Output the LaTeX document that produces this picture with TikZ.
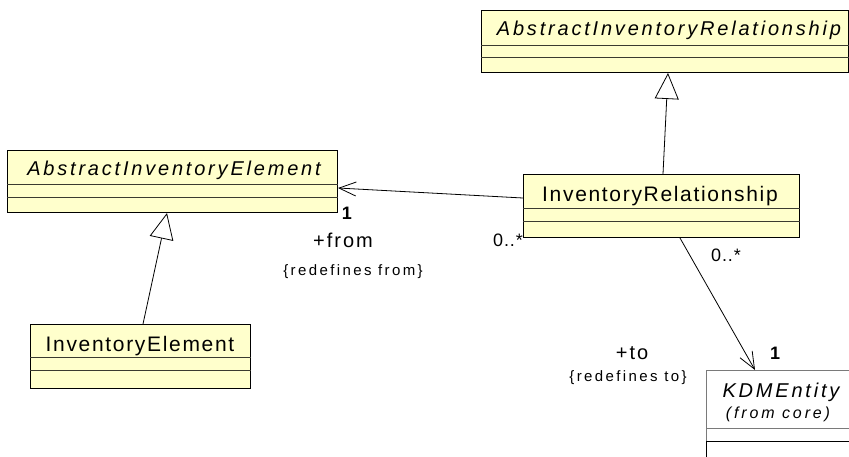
\documentclass[tikz,border=0pt]{standalone}
\usepackage{fontspec}
\setmainfont{Liberation Sans}
\newfontfamily\upnamefont[LetterSpace=8]{Liberation Sans}
\newfontfamily\itnamefont[LetterSpace=14]{Liberation Sans}
\newfontfamily\itsmallfont[LetterSpace=18]{Liberation Sans}
\newfontfamily\lblfont[LetterSpace=10]{Liberation Sans}
\newfontfamily\smallfont[LetterSpace=16]{Liberation Sans}
\newfontfamily\multfont[LetterSpace=5]{Liberation Sans}
\usetikzlibrary{arrows.meta}
\definecolor{clsfill}{HTML}{FFFFCC}
\definecolor{divgray}{HTML}{3A3A30}
\definecolor{kdmgray}{HTML}{7A7A7A}
\tikzset{
  clsbox/.style={draw=black, fill=clsfill, line width=1pt, inner sep=0pt, anchor=north west},
  kdmbox/.style={draw=kdmgray, fill=white, line width=1pt, inner sep=0pt, anchor=north west},
  divider/.style={draw=divgray, line width=1pt},
  upname/.style={inner sep=0pt, anchor=base, font=\upnamefont\fontsize{21}{24}\selectfont},
  itname/.style={inner sep=0pt, anchor=base, font=\itnamefont\itshape\fontsize{20}{23}\selectfont},
  itsmall/.style={inner sep=0pt, anchor=base, font=\itsmallfont\itshape\fontsize{16}{19}\selectfont},
  rolelbl/.style={inner sep=0pt, anchor=base, font=\lblfont\fontsize{20}{23}\selectfont},
  constr/.style={inner sep=0pt, anchor=base, font=\smallfont\fontsize{15}{18}\selectfont},
  mult/.style={inner sep=0pt, anchor=base, font=\multfont\fontsize{18}{21}\selectfont},
  multb/.style={inner sep=0pt, anchor=base, font=\multfont\bfseries\fontsize{18}{21}\selectfont},
  gen/.style={draw=black, line width=0.8pt, -{Triangle[open, length=26pt, width=24pt, fill=white]}},
  assoc/.style={draw=black, line width=0.8pt, -{Straight Barb[length=17pt, width=14pt]}}
}
\begin{document}
\begin{tikzpicture}[x=1pt, y=-1pt]
\useasboundingbox (0,0) rectangle (849,456);
% classes
\node[clsbox, minimum width=367pt, minimum height=62pt] (air) at (481,10) {};
\node[clsbox, minimum width=330pt, minimum height=62pt] (aie) at (7,150) {};
\node[clsbox, minimum width=276pt, minimum height=63pt] (ir) at (523,174) {};
\node[clsbox, minimum width=220pt, minimum height=64pt] (ie) at (30,324) {};
\node[kdmbox, minimum width=170pt, minimum height=110pt] (kdm) at (706,370) {};
% compartments
\draw[divider] (air.west |- 0,45) -- (air.east |- 0,45);
\draw[divider] (air.west |- 0,57) -- (air.east |- 0,57);
\draw[divider] (aie.west |- 0,184) -- (aie.east |- 0,184);
\draw[divider] (aie.west |- 0,197) -- (aie.east |- 0,197);
\draw[divider] (ir.west |- 0,208) -- (ir.east |- 0,208);
\draw[divider] (ir.west |- 0,221) -- (ir.east |- 0,221);
\draw[divider] (ie.west |- 0,357) -- (ie.east |- 0,357);
\draw[divider] (ie.west |- 0,370) -- (ie.east |- 0,370);
\draw[draw=kdmgray, line width=1pt] (kdm.west |- 0,428) -- (kdm.east |- 0,428);
\draw[draw=black, line width=1pt] (kdm.west |- 0,441) -- (kdm.east |- 0,441);
\draw[draw=black, line width=1pt] (kdm.west |- 0,441) -- (kdm.south west);
% class names
\node[itname] (airt) at (669,35) {AbstractInventoryRelationship};
\node[itname] (aiet) at (174,175) {AbstractInventoryElement};
\node[upname] (irt) at (660,201) {InventoryRelationship};
\node[upname] (iet) at (140,351) {InventoryElement};
\node[itname] (kdmt) at (781,397) {KDMEntity};
\node[itsmall] (kdmf) at (778,418) {(from core)};
% generalizations
\draw[gen] ([xshift=140pt]ir.north west) -- ([xshift=187pt]air.south west);
\draw[gen] ([xshift=113pt]ie.north west) -- ([xshift=160pt]aie.south west);
% associations
\draw[assoc] ([yshift=-24pt]ir.north west) -- ([yshift=-38pt]aie.north east);
\draw[assoc] ([xshift=157pt]ir.south west) -- ([xshift=49pt]kdm.north west);
% labels
\node[multb] (m1) at (347,219) {1};
\node[rolelbl] (rfrom) at (343,247) {+from};
\node[constr] (cfrom) at (353,275) {\{redefines from\}};
\node[mult] (m2) at (508,246) {0..*};
\node[mult] (m3) at (726,261) {0..*};
\node[multb] (m4) at (775,359) {1};
\node[rolelbl] (rto) at (632,359) {+to};
\node[constr] (cto) at (628,381) {\{redefines to\}};
\end{tikzpicture}
\end{document}
